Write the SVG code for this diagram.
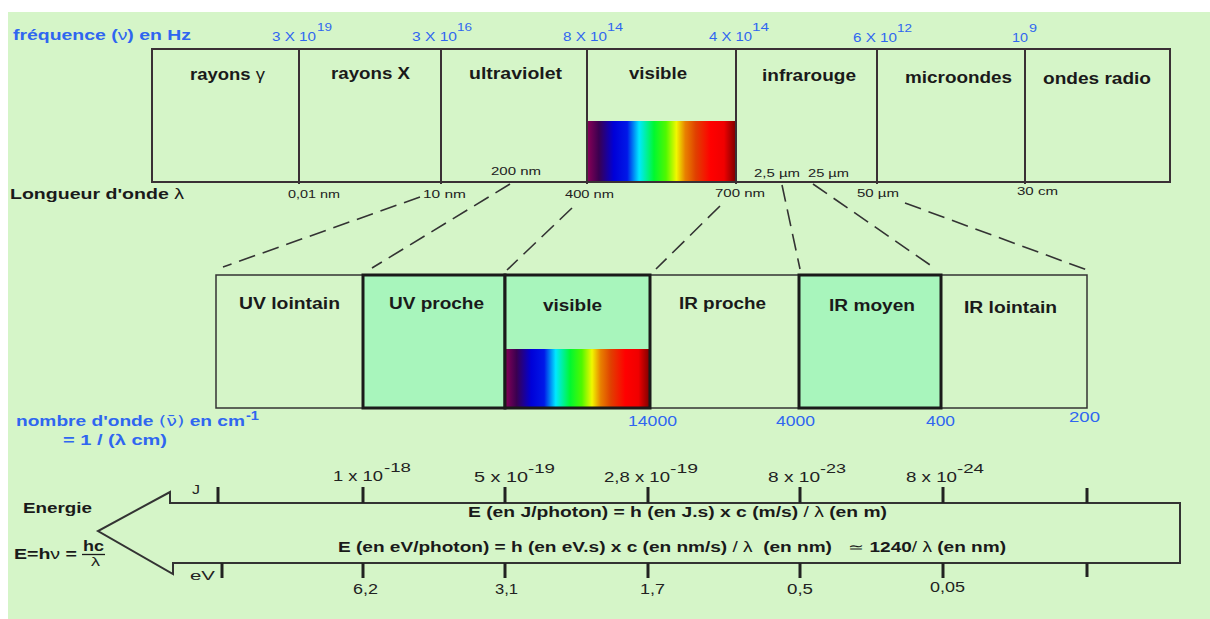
<svg xmlns="http://www.w3.org/2000/svg" width="1210" height="619" viewBox="0 0 1210 619">
<defs>
<linearGradient id="spec" x1="0" y1="0" x2="1" y2="0">
<stop offset="0" stop-color="#8b0057"/>
<stop offset="0.08" stop-color="#3a0050"/>
<stop offset="0.18" stop-color="#0000d8"/>
<stop offset="0.27" stop-color="#0018e8"/>
<stop offset="0.35" stop-color="#00e8ff"/>
<stop offset="0.45" stop-color="#00f830"/>
<stop offset="0.53" stop-color="#50f800"/>
<stop offset="0.6" stop-color="#f0f800"/>
<stop offset="0.66" stop-color="#e88000"/>
<stop offset="0.73" stop-color="#e04000"/>
<stop offset="0.83" stop-color="#ff0000"/>
<stop offset="0.92" stop-color="#f00000"/>
<stop offset="1" stop-color="#7a0000"/>
</linearGradient>
<style>
text{font-family:"Liberation Sans",Arial,sans-serif;}
.b{font-weight:bold;fill:#1a1a1a;}
.bl{fill:#2f66f0;}
.blb{fill:#2f66f0;font-weight:bold;}
.n{fill:#222;}
.box{fill:none;stroke:#3a3035;stroke-width:2;}
.dv{stroke:#3a3035;stroke-width:2;}
.mid{fill:#d5f5c8;stroke:#333;stroke-width:1.5;}
.hi{fill:#a8f5bc;stroke:#1a1a1a;stroke-width:3;}
.dash{stroke:#333;stroke-width:1.6;stroke-dasharray:17 8;fill:none;}
.tk{stroke:#222;stroke-width:3;}
</style>
</defs>
<rect x="8" y="12" width="1202" height="607" fill="#d5f5c8"/>

<g id="frequency-axis">
<text class="blb" x="13" y="40" font-size="14" textLength="178" lengthAdjust="spacingAndGlyphs">fréquence (<tspan font-weight="normal">ν</tspan>) en Hz</text>
<text class="bl" x="272" y="41" font-size="12" textLength="44" lengthAdjust="spacingAndGlyphs">3 X 10</text>
<text class="bl" x="317" y="31" font-size="10" textLength="15" lengthAdjust="spacingAndGlyphs">19</text>
<text class="bl" x="412" y="41" font-size="12" textLength="45" lengthAdjust="spacingAndGlyphs">3 X 10</text>
<text class="bl" x="457" y="31" font-size="10" textLength="15" lengthAdjust="spacingAndGlyphs">16</text>
<text class="bl" x="563" y="41" font-size="12" textLength="44" lengthAdjust="spacingAndGlyphs">8 X 10</text>
<text class="bl" x="607" y="31" font-size="10" textLength="16" lengthAdjust="spacingAndGlyphs">14</text>
<text class="bl" x="709" y="41" font-size="12" textLength="43" lengthAdjust="spacingAndGlyphs">4 X 10</text>
<text class="bl" x="752" y="31" font-size="10" textLength="17" lengthAdjust="spacingAndGlyphs">14</text>
<text class="bl" x="853" y="42" font-size="12" textLength="44" lengthAdjust="spacingAndGlyphs">6 X 10</text>
<text class="bl" x="897" y="32" font-size="10" textLength="15" lengthAdjust="spacingAndGlyphs">12</text>
<text class="bl" x="1012" y="42" font-size="12" textLength="16" lengthAdjust="spacingAndGlyphs">10</text>
<text class="bl" x="1029" y="32" font-size="10" textLength="8" lengthAdjust="spacingAndGlyphs">9</text>
</g>

<g id="spectrum-bands">
<rect x="587" y="121" width="149" height="61" fill="url(#spec)"/>
<rect class="box" x="152" y="49" width="1018" height="133"/>
<line class="dv" x1="299" y1="49" x2="299" y2="184"/>
<line class="dv" x1="441" y1="49" x2="441" y2="184"/>
<line class="dv" x1="587" y1="49" x2="587" y2="184"/>
<line class="dv" x1="736" y1="49" x2="736" y2="184"/>
<line class="dv" x1="877" y1="49" x2="877" y2="184"/>
<line class="dv" x1="1025" y1="49" x2="1025" y2="184"/>
</g>
<g id="band-gamma"><text class="b" x="190" y="80" font-size="16" textLength="75" lengthAdjust="spacingAndGlyphs">rayons <tspan font-weight="normal">γ</tspan></text></g>
<g id="band-x"><text class="b" x="331" y="79" font-size="16" textLength="79" lengthAdjust="spacingAndGlyphs">rayons X</text></g>
<g id="band-uv"><text class="b" x="469" y="79" font-size="16" textLength="93" lengthAdjust="spacingAndGlyphs">ultraviolet</text></g>
<g id="band-visible"><text class="b" x="629" y="79" font-size="16" textLength="58" lengthAdjust="spacingAndGlyphs">visible</text></g>
<g id="band-ir"><text class="b" x="762" y="81" font-size="16" textLength="94" lengthAdjust="spacingAndGlyphs">infrarouge</text></g>
<g id="band-micro"><text class="b" x="905" y="83" font-size="16" textLength="107" lengthAdjust="spacingAndGlyphs">microondes</text></g>
<g id="band-radio"><text class="b" x="1043" y="84" font-size="16" textLength="108" lengthAdjust="spacingAndGlyphs">ondes radio</text></g>

<g id="wavelength-axis">
<text class="b" x="10" y="199" font-size="15" textLength="174" lengthAdjust="spacingAndGlyphs">Longueur d'onde <tspan font-weight="normal">λ</tspan></text>
<text class="n" x="288" y="198" font-size="11" textLength="52" lengthAdjust="spacingAndGlyphs">0,01 nm</text>
<text class="n" x="423" y="198" font-size="11" textLength="43" lengthAdjust="spacingAndGlyphs">10 nm</text>
<text class="n" x="491" y="175" font-size="11" textLength="50" lengthAdjust="spacingAndGlyphs">200 nm</text>
<text class="n" x="565" y="198" font-size="11" textLength="49" lengthAdjust="spacingAndGlyphs">400 nm</text>
<text class="n" x="715" y="197" font-size="11" textLength="50" lengthAdjust="spacingAndGlyphs">700 nm</text>
<text class="n" x="754" y="177" font-size="11" textLength="46" lengthAdjust="spacingAndGlyphs">2,5 µm</text>
<text class="n" x="808" y="177" font-size="11" textLength="41" lengthAdjust="spacingAndGlyphs">25 µm</text>
<text class="n" x="857" y="197" font-size="11" textLength="42" lengthAdjust="spacingAndGlyphs">50 µm</text>
<text class="n" x="1017" y="195" font-size="11" textLength="41" lengthAdjust="spacingAndGlyphs">30 cm</text>
</g>

<g id="connectors">
<line class="dash" x1="420" y1="197" x2="223" y2="267"/>
<line class="dash" x1="510" y1="184" x2="372" y2="268"/>
<line class="dash" x1="572" y1="208" x2="507" y2="270"/>
<line class="dash" x1="720" y1="206" x2="656" y2="269"/>
<line class="dash" x1="782" y1="185" x2="800" y2="269"/>
<line class="dash" x1="813" y1="184" x2="933" y2="267"/>
<line class="dash" x1="905" y1="203" x2="1087" y2="270"/>
</g>

<g id="sub-uv-lointain">
<rect class="mid" x="216" y="275" width="147" height="133"/>
<text class="b" x="239" y="309" font-size="16" textLength="101" lengthAdjust="spacingAndGlyphs">UV lointain</text>
</g>
<g id="sub-ir-proche">
<rect class="mid" x="650" y="275" width="149" height="133"/>
<text class="b" x="679" y="309" font-size="16" textLength="87" lengthAdjust="spacingAndGlyphs">IR proche</text>
</g>
<g id="sub-ir-lointain">
<rect class="mid" x="941" y="275" width="146" height="133"/>
<text class="b" x="964" y="313" font-size="16" textLength="93" lengthAdjust="spacingAndGlyphs">IR lointain</text>
</g>
<g id="sub-uv-proche">
<rect class="hi" x="363" y="275" width="142" height="133"/>
<text class="b" x="389" y="309" font-size="16" textLength="95" lengthAdjust="spacingAndGlyphs">UV proche</text>
</g>
<g id="sub-visible">
<rect x="505" y="349" width="145" height="59" fill="url(#spec)"/>
<rect x="505" y="275" width="145" height="74" fill="#a8f5bc"/>
<rect x="505" y="275" width="145" height="133" fill="none" stroke="#1a1a1a" stroke-width="3"/>
<text class="b" x="543" y="311" font-size="16" textLength="59" lengthAdjust="spacingAndGlyphs">visible</text>
</g>
<g id="sub-ir-moyen">
<rect class="hi" x="799" y="275" width="142" height="133"/>
<text class="b" x="829" y="311" font-size="16" textLength="86" lengthAdjust="spacingAndGlyphs">IR moyen</text>
</g>

<g id="wavenumber-axis">
<text class="blb" x="16" y="426" font-size="14" textLength="229" lengthAdjust="spacingAndGlyphs">nombre d'onde <tspan font-weight="normal" font-family="DejaVu Sans, sans-serif">(ν̄)</tspan>  en cm</text>
<text class="blb" x="246" y="420" font-size="12" textLength="13" lengthAdjust="spacingAndGlyphs">-1</text>
<text class="blb" x="63" y="445" font-size="14" textLength="104" lengthAdjust="spacingAndGlyphs">= 1 / (λ cm)</text>
<text class="bl" x="628" y="426" font-size="14" textLength="49" lengthAdjust="spacingAndGlyphs">14000</text>
<text class="bl" x="776" y="426" font-size="14" textLength="39" lengthAdjust="spacingAndGlyphs">4000</text>
<text class="bl" x="926" y="426" font-size="14" textLength="29" lengthAdjust="spacingAndGlyphs">400</text>
<text class="bl" x="1069" y="422" font-size="14" textLength="31" lengthAdjust="spacingAndGlyphs">200</text>
</g>

<g id="energy-arrow">
<polygon points="170,503 1180,503 1180,563 173,563 173,574 98,531 170,492" fill="none" stroke="#333" stroke-width="2"/>
<line class="tk" x1="218" y1="487" x2="218" y2="503"/>
<line class="tk" x1="363" y1="487" x2="363" y2="503"/>
<line class="tk" x1="505" y1="487" x2="505" y2="503"/>
<line class="tk" x1="648" y1="487" x2="648" y2="503"/>
<line class="tk" x1="800" y1="487" x2="800" y2="503"/>
<line class="tk" x1="943" y1="487" x2="943" y2="503"/>
<line class="tk" x1="1087" y1="488" x2="1087" y2="503"/>
<line class="tk" x1="222" y1="563" x2="222" y2="578"/>
<line class="tk" x1="363" y1="563" x2="363" y2="578"/>
<line class="tk" x1="505" y1="563" x2="505" y2="578"/>
<line class="tk" x1="648" y1="563" x2="648" y2="578"/>
<line class="tk" x1="800" y1="563" x2="800" y2="578"/>
<line class="tk" x1="943" y1="563" x2="943" y2="578"/>
<line class="tk" x1="1087" y1="563" x2="1087" y2="577"/>
</g>

<g id="energy-labels">
<text class="b" x="23" y="513" font-size="14" textLength="69" lengthAdjust="spacingAndGlyphs">Energie</text>
<text class="b" x="14" y="559" font-size="14" textLength="63" lengthAdjust="spacingAndGlyphs">E=h<tspan font-weight="normal">ν</tspan> =</text>
<text class="b" x="83" y="551" font-size="14" textLength="21" lengthAdjust="spacingAndGlyphs">hc</text>
<line x1="82" y1="554.5" x2="105" y2="554.5" stroke="#1a1a1a" stroke-width="1.3"/>
<text class="n" x="91" y="566" font-size="12" textLength="9" lengthAdjust="spacingAndGlyphs">λ</text>
<text class="n" x="192" y="494" font-size="13" textLength="8" lengthAdjust="spacingAndGlyphs">J</text>
<text class="n" x="190" y="580" font-size="13" textLength="25" lengthAdjust="spacingAndGlyphs">eV</text>

<text class="n" x="333" y="481" font-size="14" textLength="50" lengthAdjust="spacingAndGlyphs">1 x 10</text>
<text class="n" x="384" y="472" font-size="13" textLength="27" lengthAdjust="spacingAndGlyphs">-18</text>
<text class="n" x="474" y="482" font-size="14" textLength="54" lengthAdjust="spacingAndGlyphs">5 x 10</text>
<text class="n" x="528" y="473" font-size="13" textLength="27" lengthAdjust="spacingAndGlyphs">-19</text>
<text class="n" x="604" y="482" font-size="14" textLength="66" lengthAdjust="spacingAndGlyphs">2,8 x 10</text>
<text class="n" x="670" y="473" font-size="13" textLength="28" lengthAdjust="spacingAndGlyphs">-19</text>
<text class="n" x="768" y="482" font-size="14" textLength="52" lengthAdjust="spacingAndGlyphs">8 x 10</text>
<text class="n" x="820" y="473" font-size="13" textLength="26" lengthAdjust="spacingAndGlyphs">-23</text>
<text class="n" x="906" y="482" font-size="14" textLength="51" lengthAdjust="spacingAndGlyphs">8 x 10</text>
<text class="n" x="957" y="473" font-size="13" textLength="27" lengthAdjust="spacingAndGlyphs">-24</text>

<text class="n" x="353" y="594" font-size="14" textLength="25" lengthAdjust="spacingAndGlyphs">6,2</text>
<text class="n" x="495" y="594" font-size="14" textLength="23" lengthAdjust="spacingAndGlyphs">3,1</text>
<text class="n" x="640" y="594" font-size="14" textLength="25" lengthAdjust="spacingAndGlyphs">1,7</text>
<text class="n" x="787" y="594" font-size="14" textLength="26" lengthAdjust="spacingAndGlyphs">0,5</text>
<text class="n" x="930" y="592" font-size="14" textLength="35" lengthAdjust="spacingAndGlyphs">0,05</text>

<text class="b" x="468" y="517" font-size="14" textLength="419" lengthAdjust="spacingAndGlyphs">E (en J/photon) = h (en J.s) x c (m/s) <tspan font-weight="normal">/ λ</tspan> (en m)</text>
<text class="b" x="338" y="552" font-size="14" textLength="668" lengthAdjust="spacingAndGlyphs" xml:space="preserve">E (en eV/photon) = h (en eV.s) x c (en nm/s) <tspan font-weight="normal">/ λ</tspan>  (en nm)   <tspan font-weight="normal">≃</tspan> 1240<tspan font-weight="normal">/ λ</tspan> (en nm)</text>
</g>
</svg>
